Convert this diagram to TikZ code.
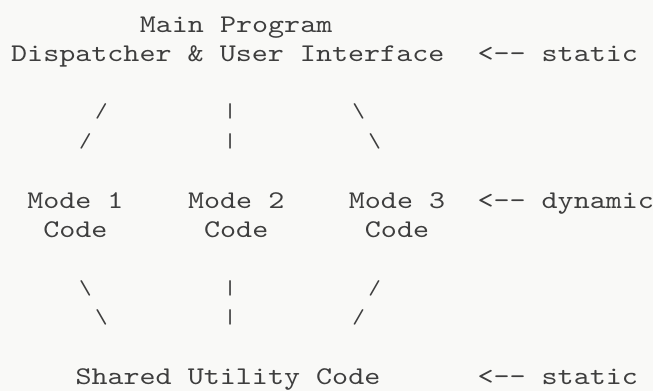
\documentclass[tikz,border=0pt]{standalone}
\usepackage{fontspec}
\setmonofont{lmmono10-regular.otf}[FakeStretch=1.2]
\usepackage{tikz}
\definecolor{ink}{RGB}{62,62,62}
\definecolor{paper}{RGB}{249,249,247}
\tikzset{
  txt/.style={anchor=base west, inner sep=0pt, text=ink,
    font=\ttfamily\fontsize{25.5pt}{29.4pt}\selectfont},
  spoke/.style={anchor=base, inner sep=0pt, text=ink, xshift=2pt, yshift=2.5pt,
    font=\ttfamily\fontsize{20pt}{24pt}\selectfont}
}
\begin{document}
\begin{tikzpicture}[x=16.1pt,y=-29.4pt]
  % one unit = one character cell, rows counted downwards
  \fill[paper] (-0.683,-1.099) rectangle (39.938,12.201);
  \node[txt] (main) at (8,0) {Main Program};
  \node[txt] (ui) at (0,1) {Dispatcher \& User Interface};
  \node[txt] (tagtop) at (29,1) {<-- static};
  \node[spoke] (upl1) at (5.5,3) {/};
  \node[spoke] (upm1) at (13.5,3) {|};
  \node[spoke] (upr1) at (21.5,3) {\textbackslash};
  \node[spoke] (upl2) at (4.5,4) {/};
  \node[spoke] (upm2) at (13.5,4) {|};
  \node[spoke] (upr2) at (22.5,4) {\textbackslash};
  \node[txt] (modea) at (1,6) {Mode 1};
  \node[txt] (modeb) at (11,6) {Mode 2};
  \node[txt] (modec) at (21,6) {Mode 3};
  \node[txt] (tagmid) at (29,6) {<-- dynamic};
  \node[txt] (codea) at (2,7) {Code};
  \node[txt] (codeb) at (12,7) {Code};
  \node[txt] (codec) at (22,7) {Code};
  \node[spoke] (dnl1) at (4.5,9) {\textbackslash};
  \node[spoke] (dnm1) at (13.5,9) {|};
  \node[spoke] (dnr1) at (22.5,9) {/};
  \node[spoke] (dnl2) at (5.5,10) {\textbackslash};
  \node[spoke] (dnm2) at (13.5,10) {|};
  \node[spoke] (dnr2) at (21.5,10) {/};
  \node[txt] (util) at (4,12) {Shared Utility Code};
  \node[txt] (tagbot) at (29,12) {<-- static};
\end{tikzpicture}
\end{document}
